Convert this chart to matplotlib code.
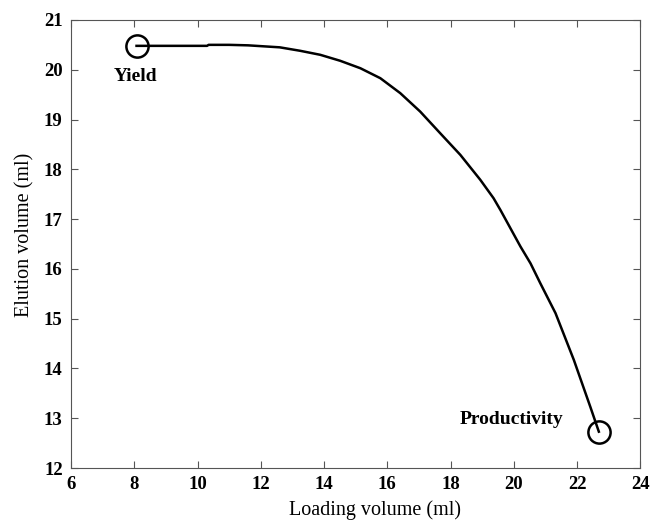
import matplotlib
matplotlib.use('Agg')
from matplotlib import pyplot as plt

# curve
loading_ml = [8.07, 9.0, 10.3, 10.35, 11.0, 11.6, 12.6, 13.25, 13.88, 14.51, 15.15,
              15.78, 16.41, 17.04, 17.68, 18.31, 18.94, 19.36, 19.58, 20.21, 20.53,
              20.84, 21.32, 21.9, 22.42, 22.69]
elution_ml = [20.48, 20.48, 20.48, 20.50, 20.50, 20.49, 20.45, 20.38, 20.30, 20.18, 20.03,
              19.83, 19.53, 19.16, 18.72, 18.29, 17.79, 17.42, 17.18, 16.45, 16.11,
              15.71, 15.11, 14.17, 13.23, 12.73]

yield_pt = (8.07, 20.48)
prod_pt = (22.69, 12.73)

x_ticks = [6, 8, 10, 12, 14, 16, 18, 20, 22, 24]
y_ticks = [12, 13, 14, 15, 16, 17, 18, 19, 20, 21]

plt.rcParams['font.family'] = ['Liberation Serif', 'DejaVu Serif']

fig = plt.figure(figsize=(6.52, 5.21), dpi=100)
ax = fig.add_axes([0.109, 0.1017, 0.873, 0.86])

ax.plot(loading_ml, elution_ml, color='black', lw=1.8, solid_joinstyle='round')
ax.plot(*yield_pt, marker='o', ms=16, mfc='none', mec='black', mew=1.8)
ax.plot(*prod_pt, marker='o', ms=16, mfc='none', mec='black', mew=1.8)

ax.text(8.03, 19.86, 'Yield', fontsize=14, fontweight='bold', ha='center', va='center')
ax.text(18.28, 12.97, 'Productivity', fontsize=14, fontweight='bold', ha='left', va='center')

ax.set_xlim(6, 24)
ax.set_ylim(12, 21)
ax.set_xticks(x_ticks)
ax.set_yticks(y_ticks)
ax.tick_params(direction='in', top=True, right=True, length=5, width=0.8,
               color='#555555', labelsize=13.5)
ax.tick_params(axis='x', pad=6)
ax.tick_params(axis='y', pad=6)
for lab in ax.get_xticklabels() + ax.get_yticklabels():
    lab.set_fontweight('bold')
for sp in ax.spines.values():
    sp.set_color('#555555')
    sp.set_linewidth(0.8)

ax.set_xlabel('Loading volume (ml)', fontsize=14.5)
ax.set_ylabel('Elution volume (ml)', fontsize=14.5)
ax.xaxis.set_label_coords(0.534, -0.073)
ax.yaxis.set_label_coords(-0.064, 0.52)

fig.savefig('out.png', dpi=100, facecolor='white')
plt.close(fig)
